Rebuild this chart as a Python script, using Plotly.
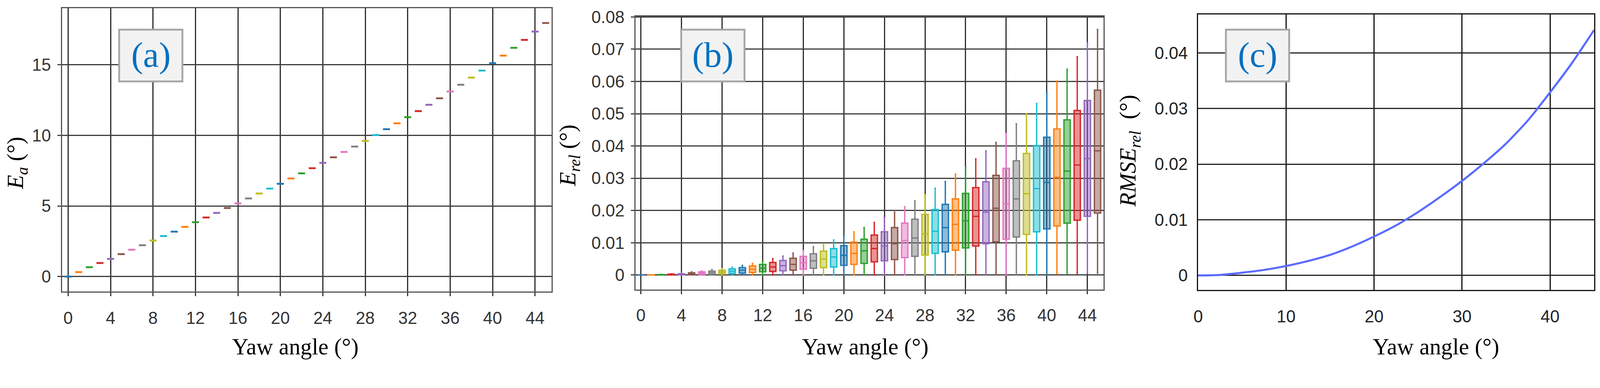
import plotly.graph_objects as go
from plotly.subplots import make_subplots

# reference picture size, and the page width the browser really shows (4096 px);
# the shot is scaled up to 4324, so everything is built at K and grows back
REF_W, REF_H = 4324, 993
VIEW_W = 4096
K = VIEW_W / REF_W
W, H = VIEW_W, round(REF_H * K)

# ---- data ----
yaw = list(range(46))

tab10 = ["#1f77b4", "#ff7f0e", "#2ca02c", "#d62728", "#9467bd",
         "#8c564b", "#e377c2", "#7f7f7f", "#bcbd22", "#17becf"]

# (a) absolute error per yaw angle
ea = [0.00, 0.32, 0.66, 0.96, 1.25, 1.59, 1.90, 2.22, 2.55, 2.87,
      3.18, 3.52, 3.85, 4.18, 4.51, 4.85, 5.18, 5.53, 5.88, 6.23,
      6.57, 6.94, 7.31, 7.67, 8.05, 8.44, 8.82, 9.20, 9.60, 10.02,
      10.43, 10.85, 11.28, 11.71, 12.16, 12.62, 13.10, 13.58, 14.08, 14.58,
      15.11, 15.64, 16.19, 16.75, 17.34, 17.95]

# (b) relative error box statistics
erel_upper = [0.0, 0.00005, 0.0002, 0.0004, 0.0006, 0.0010, 0.0013, 0.0017, 0.0020, 0.0024,
              0.0030, 0.0036, 0.0042, 0.0051, 0.0059, 0.0068, 0.0076, 0.0088, 0.0097, 0.0109,
              0.0122, 0.0134, 0.0147, 0.0163, 0.0178, 0.0195, 0.0212, 0.0230, 0.0249, 0.0269,
              0.0290, 0.0313, 0.0335, 0.0360, 0.0385, 0.0411, 0.0439, 0.0469, 0.0500, 0.0532,
              0.0566, 0.0601, 0.0638, 0.0677, 0.0720, 0.0761]
erel_q3 = [0.0, 0.00004, 0.00015, 0.0003, 0.0004, 0.0007, 0.0010, 0.0012, 0.0015, 0.0019,
           0.0023, 0.0028, 0.0033, 0.0039, 0.0045, 0.0052, 0.0058, 0.0066, 0.0074, 0.0082,
           0.0091, 0.0102, 0.0111, 0.0124, 0.0134, 0.0147, 0.0161, 0.0173, 0.0188, 0.0203,
           0.0219, 0.0236, 0.0253, 0.0271, 0.0289, 0.0309, 0.0331, 0.0354, 0.0377, 0.0401,
           0.0427, 0.0453, 0.0481, 0.0510, 0.0541, 0.0573]
erel_median = [0.0, 0.00002, 0.00008, 0.00015, 0.00025, 0.0004, 0.0006, 0.0007, 0.0009, 0.0012,
               0.0015, 0.0018, 0.0021, 0.0025, 0.0029, 0.0033, 0.0038, 0.0044, 0.0050, 0.0056,
               0.0061, 0.0067, 0.0075, 0.0082, 0.0090, 0.0097, 0.0107, 0.0115, 0.0127, 0.0136,
               0.0147, 0.0157, 0.0168, 0.0182, 0.0195, 0.0207, 0.0221, 0.0236, 0.0252, 0.0268,
               0.0287, 0.0303, 0.0322, 0.0341, 0.0361, 0.0385]
erel_q1 = [0.0, 0.00001, 0.00002, 0.00004, 0.00006, 0.0001, 0.00015, 0.0002, 0.0003, 0.0005,
           0.0006, 0.0008, 0.0010, 0.0011, 0.0013, 0.0015, 0.0018, 0.0021, 0.0023, 0.0025,
           0.0030, 0.0033, 0.0036, 0.0041, 0.0044, 0.0048, 0.0054, 0.0058, 0.0062, 0.0067,
           0.0072, 0.0077, 0.0084, 0.0090, 0.0097, 0.0103, 0.0111, 0.0118, 0.0126, 0.0134,
           0.0143, 0.0152, 0.0161, 0.0170, 0.0182, 0.0192]
erel_lower = [0.0] * 41 + [0.0003, 0.0005, 0.0005, 0.0005, 0.0006]

# (c) RMSE curve
rmse_yaw = [0, 2.5, 5, 7.5, 10, 12.5, 15, 17.5, 20, 22.5, 25, 27.5, 30,
            32.5, 35, 37.5, 40, 42.5, 45]
rmse = [0.0, 0.0001, 0.0005, 0.0010, 0.0017, 0.0026, 0.0037, 0.0052, 0.0070, 0.0090,
        0.0114, 0.0141, 0.0170, 0.0202, 0.0237, 0.0279, 0.0329, 0.0382, 0.0441]


def px(x):
    return x / REF_W


def py(y):
    return 1 - y / REF_H


def s(v):
    # size in reference pixels -> page pixels
    return v * K


def si(v):
    return int(round(v * K))


def rgba(hex_color, a):
    h = hex_color.lstrip("#")
    return "rgba(%d,%d,%d,%s)" % (int(h[0:2], 16), int(h[2:4], 16), int(h[4:6], 16), a)


fig = make_subplots(rows=1, cols=3)

# (a) tiny boxes -> coloured dashes
for i, a in enumerate(yaw):
    c = tab10[i % 10]
    fig.add_trace(go.Box(x=[a], q1=[ea[i]], median=[ea[i]], q3=[ea[i]],
                         lowerfence=[ea[i]], upperfence=[ea[i]],
                         width=0.66, line=dict(color=c, width=s(5)), fillcolor=c,
                         boxpoints=False, showlegend=False), row=1, col=1)

# (b) box plots
for i, a in enumerate(yaw):
    c = tab10[i % 10]
    fig.add_trace(go.Box(x=[a], q1=[erel_q1[i]], median=[erel_median[i]], q3=[erel_q3[i]],
                         lowerfence=[erel_lower[i]], upperfence=[erel_upper[i]],
                         width=0.62, whiskerwidth=0.25,
                         line=dict(color=c, width=s(3.6)), fillcolor=rgba(c, 0.5),
                         boxpoints=False, showlegend=False), row=1, col=2)

# (c) RMSE line
fig.add_trace(go.Scatter(x=rmse_yaw, y=rmse, mode="lines",
                         line=dict(color="#5a6bff", width=s(5.5), shape="spline", smoothing=0.6),
                         showlegend=False),
              row=1, col=3)

tick_font = dict(family="Liberation Sans", size=s(46), color="#333333")
common = dict(showgrid=True, zeroline=False, showline=True, mirror=True,
              tickfont=tick_font, automargin=False)

fig.update_xaxes(domain=[px(168), px(1491)], range=[-0.56, 45.57],
                 tickvals=list(range(0, 45, 4)), gridcolor="#2b2b2b", gridwidth=s(2.8),
                 linecolor="#555555", linewidth=s(3), ticks="outside", ticklen=si(10),
                 tickcolor="#333333", tickwidth=s(2.8), ticklabelstandoff=si(20),
                 row=1, col=1, **common)
fig.update_yaxes(domain=[py(787), py(22)], range=[-1.05, 19.0],
                 tickvals=[0, 5, 10, 15], gridcolor="#3c3c3c", gridwidth=s(3.2),
                 linecolor="#555555", linewidth=s(3), ticks="outside", ticklen=si(10),
                 tickcolor="#444444", tickwidth=s(3), ticklabelstandoff=si(8),
                 row=1, col=1, **common)

fig.update_xaxes(domain=[px(1718), px(2982)], range=[-0.51, 45.58],
                 tickvals=list(range(0, 45, 4)), gridcolor="#2b2b2b", gridwidth=s(2.8),
                 linecolor="#555555", linewidth=s(3), ticks="outside", ticklen=si(10),
                 tickcolor="#333333", tickwidth=s(2.8), ticklabelstandoff=si(18),
                 row=1, col=2, **common)
fig.update_yaxes(domain=[py(782), py(44)], range=[-0.0045, 0.0802],
                 tickvals=[0, 0.01, 0.02, 0.03, 0.04, 0.05, 0.06, 0.07, 0.08],
                 ticktext=["0", "0.01", "0.02", "0.03", "0.04", "0.05", "0.06", "0.07", "0.08"],
                 gridcolor="#3c3c3c", gridwidth=s(3.2),
                 linecolor="#555555", linewidth=s(3), ticks="outside", ticklen=si(10),
                 tickcolor="#444444", tickwidth=s(3), ticklabelstandoff=si(8),
                 row=1, col=2, **common)

fig.update_xaxes(domain=[px(3238), px(4308)], range=[0, 45],
                 tickvals=[0, 10, 20, 30, 40], gridcolor="#111111", gridwidth=s(2.8),
                 linecolor="#111111", linewidth=s(3), ticklabelstandoff=si(30),
                 row=1, col=3, **common)
fig.update_yaxes(domain=[py(783), py(39)], range=[-0.0026, 0.0469],
                 tickvals=[0, 0.01, 0.02, 0.03, 0.04],
                 ticktext=["0", "0.01", "0.02", "0.03", "0.04"],
                 gridcolor="#222222", gridwidth=s(3.2),
                 linecolor="#111111", linewidth=s(3), ticklabelstandoff=si(16),
                 row=1, col=3, **common)
fig.update_xaxes(tickfont_color="#222222", row=1, col=3)
fig.update_yaxes(tickfont_color="#222222", row=1, col=3)

serif = "Liberation Serif"
annotations = []
# x titles
for xc in [798, 2338, 3881]:
    annotations.append(dict(x=px(xc), y=py(937), xref="paper", yref="paper",
                            text="Yaw angle (°)", showarrow=False,
                            font=dict(family=serif, size=s(62), color="black"),
                            xanchor="center", yanchor="middle"))
# y titles
for xc, yc, txt in [(46, 440, "<i>E<sub>a</sub></i> (°)"),
                    (1538, 420, "<i>E<sub>rel</sub></i> (°)"),
                    (3053, 408, "<i>RMSE<sub>rel</sub></i>  (°)")]:
    annotations.append(dict(x=px(xc), y=py(yc), xref="paper", yref="paper",
                            text=txt, showarrow=False, textangle=-90,
                            font=dict(family=serif, size=s(62), color="black"),
                            xanchor="center", yanchor="middle"))

# panel label boxes
shapes = []
for (x0, x1), lab in [((322, 493), "(a)"), ((1841, 2012), "(b)"), ((3313, 3484), "(c)")]:
    shapes.append(dict(type="rect", xref="paper", yref="paper",
                       x0=px(x0), x1=px(x1), y0=py(220), y1=py(80),
                       fillcolor="#f2f2f2", line=dict(color="#a6a6a6", width=s(5))))
    annotations.append(dict(x=px((x0 + x1) / 2), y=py(148), xref="paper", yref="paper",
                            text=lab, showarrow=False,
                            font=dict(family=serif, size=s(96), color="#0070c0"),
                            xanchor="center", yanchor="middle"))

fig.update_layout(template="none", width=W, height=H, autosize=False,
                  margin=dict(l=0, r=0, t=0, b=0, pad=0),
                  paper_bgcolor="white", plot_bgcolor="white",
                  boxmode="overlay", showlegend=False,
                  annotations=annotations, shapes=shapes)

# drop the default body margin so the figure sits at the page corner
fig.write_html("out.html", config={"displayModeBar": False},
               post_script="document.body.style.margin='0';")
